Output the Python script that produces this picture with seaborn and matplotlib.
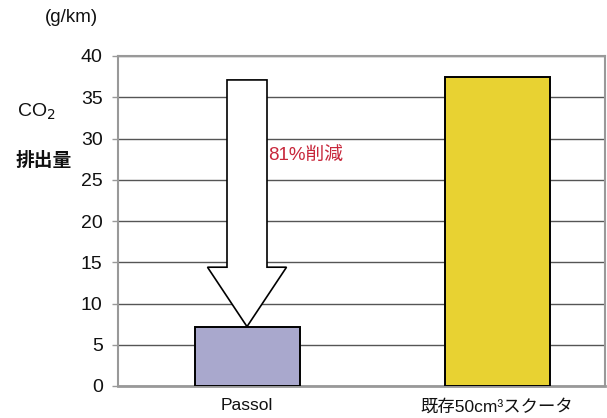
import matplotlib
matplotlib.use("Agg")
import matplotlib.pyplot as plt
from matplotlib.patches import Polygon
import seaborn as sns
import pandas as pd

categories = ["Passol", "既存50cm³スクータ"]
values = [7.2, 37.4]
colors = ["#a9a8cd", "#e8d232"]
yticks = [0, 5, 10, 15, 20, 25, 30, 35, 40]
arrow_top = 37.1
arrow_head_base = 14.4
reduction_label = "81%削減"

sns.set_theme(style="white")
plt.rcParams['font.family'] = ['Liberation Sans', 'Noto Sans CJK JP', 'DejaVu Sans']

df = pd.DataFrame({"cat": categories, "val": values})

fig = plt.figure(figsize=(6.07, 4.18), dpi=100)
ax = fig.add_axes([118/607, 1-386/418, (605-118)/607, (386-56)/418])

sns.barplot(data=df, x="cat", y="val", hue="cat", palette=colors, width=0.42,
            edgecolor="black", linewidth=1.4, ax=ax, legend=False, zorder=3,
            saturation=1)

ax.set_ylim(0, 40)
ax.set_xlim(-0.516, 1.432)
ax.set_yticks(yticks)
ax.set_yticklabels([str(t) for t in yticks], fontsize=14, color="#111111")
ax.yaxis.grid(True, color="#555555", linewidth=1.0, zorder=0)
ax.set_axisbelow(True)
ax.tick_params(axis="y", length=4, width=1, color="#999999", pad=7, left=True)
ax.tick_params(axis="x", length=0, pad=9)
for lab in ax.get_xticklabels():
    lab.set_fontsize(12.5)
    lab.set_color("#111111")
ax.set_xlabel("")
ax.set_ylabel("")
for side in ["left", "top", "right"]:
    ax.spines[side].set_visible(True)
    ax.spines[side].set_color("#999999")
    ax.spines[side].set_linewidth(1.5)
ax.spines["bottom"].set_color("#999999")
ax.spines["bottom"].set_linewidth(2)

# reduction arrow
cx = 0.0
sw = 0.08
hw = 0.158
tip = values[0]
pts = [(cx - sw, arrow_top), (cx + sw, arrow_top), (cx + sw, arrow_head_base),
       (cx + hw, arrow_head_base), (cx, tip), (cx - hw, arrow_head_base),
       (cx - sw, arrow_head_base)]
ax.add_patch(Polygon(pts, closed=True, facecolor="white", edgecolor="black",
                     linewidth=1.2, zorder=4))

ax.text(cx + sw + 0.005, 28.0, reduction_label, color="#c8283c", fontsize=13.5,
        ha="left", va="center", zorder=5)

fig.text(45/607, 1-18/418, "(g/km)", fontsize=13.5, ha="left", va="center", color="#111111")
fig.text(17/607, 1-112/418, "CO$_2$", fontsize=14, ha="left", va="center", color="#111111")
fig.text(16/607, 1-161/418, "排出量", fontsize=13.5, ha="left", va="center",
         color="#111111", fontweight="bold")

fig.savefig("out.png", dpi=100)
